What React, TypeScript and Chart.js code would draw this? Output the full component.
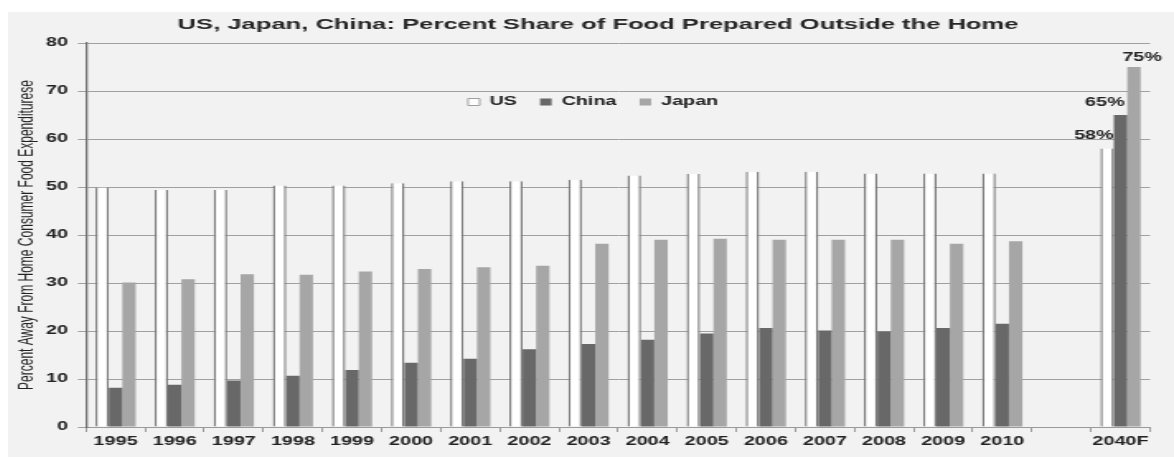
import React, { useEffect, useRef } from 'react';
import { Chart, registerables } from 'chart.js';

Chart.register(...registerables);

const FONT = '"Liberation Sans", Arial, sans-serif';

const titleText = 'US, Japan, China: Percent Share of Food Prepared Outside the Home';
const yAxisTitle = 'Percent Away From Home Consumer Food Expenditurese';

const categories = [
  '1995', '1996', '1997', '1998', '1999', '2000', '2001', '2002', '2003',
  '2004', '2005', '2006', '2007', '2008', '2009', '2010', '', '2040F',
];

const seriesNames = ['US', 'China', 'Japan'];

const usValues = [
  49.9, 49.4, 49.4, 50.3, 50.3, 50.8, 51.2, 51.2, 51.5,
  52.4, 52.7, 53.2, 53.2, 52.8, 52.8, 52.8, null, 58,
];
const chinaValues = [
  8.2, 8.8, 9.7, 10.7, 11.9, 13.4, 14.2, 16.2, 17.3,
  18.2, 19.5, 20.6, 20.1, 19.9, 20.6, 21.5, null, 65,
];
const japanValues = [
  30.1, 30.8, 31.8, 31.7, 32.4, 32.9, 33.3, 33.6, 38.2,
  39.0, 39.2, 39.0, 39.0, 39.0, 38.2, 38.7, null, 75,
];

const forecastCategory = '2040F';
const yMin = 0;
const yMax = 80;
const yStep = 10;

// canvas is drawn narrow and stretched horizontally, like the reference
const CSS_W = 1166;
const CSS_H = 445;
const CANVAS_W = 707;

const LABEL_DX = [-8, -9.5, 5];
const LABEL_DY = [-13, -12, -9.5];

const forecastLabelPlugin = {
  id: 'forecastLabels',
  afterDatasetsDraw(chart: any) {
    const idx = chart.data.labels.indexOf(forecastCategory);
    if (idx < 0) return;
    const ctx = chart.ctx;
    ctx.save();
    ctx.font = `bold 12px ${FONT}`;
    ctx.fillStyle = '#222222';
    ctx.textAlign = 'center';
    ctx.textBaseline = 'middle';
    chart.data.datasets.forEach((ds: any, i: number) => {
      const el = chart.getDatasetMeta(i).data[idx];
      const v = ds.data[idx];
      if (!el || v == null) return;
      ctx.fillText(`${v}%`, el.x + LABEL_DX[i], el.y + LABEL_DY[i]);
    });
    ctx.restore();
  },
};

// legend takes no layout space and is drawn inside the plot area
const legendMover = {
  id: 'legendMover',
  beforeDraw(chart: any) {
    const lg = chart.legend;
    if (!lg) return;
    const targetCenter = 354.8;
    const w = lg.right - lg.left;
    lg.left = targetCenter - w / 2;
    lg.right = lg.left + w;
    lg.top = 70;
    lg.bottom = lg.top + 30;
  },
};

export default function App() {
  const ref = useRef<HTMLCanvasElement>(null);

  useEffect(() => {
    if (!ref.current) return;
    const chart = new Chart(ref.current, {
      type: 'bar',
      data: {
        labels: categories,
        datasets: [
          {
            label: seriesNames[0],
            data: usValues,
            backgroundColor: '#ffffff',
            borderColor: '#7a7a7a',
            borderWidth: { left: 1.4, right: 1.4, top: 0, bottom: 0 },
            borderSkipped: false,
          },
          {
            label: seriesNames[1],
            data: chinaValues,
            backgroundColor: '#686868',
            borderWidth: 0,
          },
          {
            label: seriesNames[2],
            data: japanValues,
            backgroundColor: '#a6a6a6',
            borderWidth: 0,
          },
        ],
      } as any,
      options: {
        animation: false,
        responsive: false,
        maintainAspectRatio: false,
        devicePixelRatio: 1,
        layout: { padding: { left: 23.1, right: 14.5, top: 0, bottom: 0 } },
        datasets: {
          bar: { categoryPercentage: 0.68, barPercentage: 1.0 },
        },
        plugins: {
          title: {
            display: true,
            text: titleText,
            color: '#262626',
            font: { family: FONT, size: 15.5, weight: 'bold' },
            padding: { top: 3.7, bottom: 8.7 },
          },
          legend: {
            display: true,
            position: 'top',
            align: 'center',
            maxHeight: 0.001,
            labels: {
              color: '#222222',
              font: { family: FONT, size: 12, weight: 'bold' },
              boxWidth: 7,
              boxHeight: 7,
              padding: 14,
            },
          },
          tooltip: { enabled: false },
        },
        scales: {
          x: {
            offset: true,
            grid: {
              display: true,
              drawOnChartArea: false,
              drawTicks: true,
              tickLength: 5,
              color: '#9a9a9a',
              offset: true,
            },
            border: { display: true, color: '#9a9a9a', width: 1 },
            ticks: {
              color: '#222222',
              font: { family: FONT, size: 12, weight: 'bold' },
              padding: 2,
              maxRotation: 0,
              minRotation: 0,
              autoSkip: false,
            },
            afterFit: (scale: any) => {
              scale.height = 30;
            },
          },
          y: {
            min: yMin,
            max: yMax,
            ticks: {
              stepSize: yStep,
              color: '#222222',
              font: { family: FONT, size: 12, weight: 'bold' },
              padding: 6,
            },
            grid: {
              color: '#a0a0a0',
              lineWidth: 1,
              tickLength: 5,
            },
            border: { display: true, color: '#6e6e6e', width: 1.3 },
            title: {
              display: true,
              text: yAxisTitle,
              color: '#222222',
              font: { family: FONT, size: 12, weight: 'normal' },
              padding: { top: -18.8, bottom: 0 },
            },
            afterFit: (scale: any) => {
              scale.width = 24.2;
            },
          },
        },
      } as any,
      plugins: [forecastLabelPlugin, legendMover],
    });
    return () => chart.destroy();
  }, []);

  return (
    <div
      style={{
        position: 'absolute',
        left: 8,
        top: 12,
        width: CSS_W,
        height: CSS_H,
        background: '#f2f2f2',
      }}
    >
      <canvas
        ref={ref}
        width={CANVAS_W}
        height={CSS_H}
        style={{ width: `${CSS_W}px`, height: `${CSS_H}px`, display: 'block' }}
      />
    </div>
  );
}
